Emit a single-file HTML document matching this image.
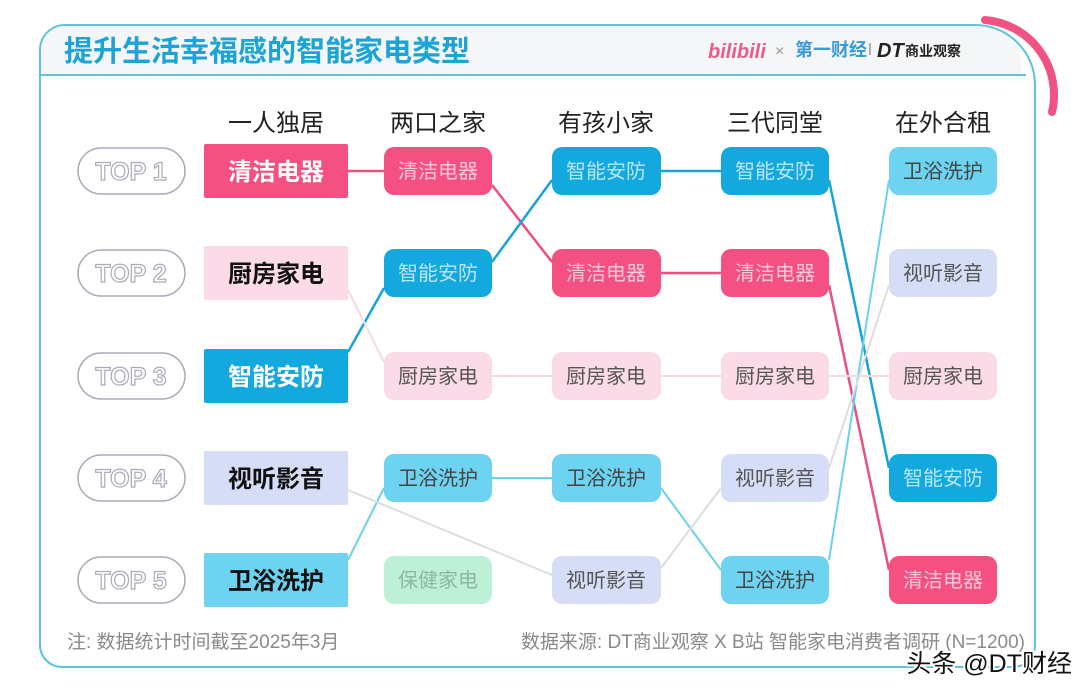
<!DOCTYPE html>
<html><head><meta charset="utf-8"><style>
html,body{margin:0;padding:0;background:#fff;}
body{width:1080px;height:694px;position:relative;overflow:hidden;font-family:"Liberation Sans","Noto Sans CJK SC",sans-serif;}
svg text{font-family:"Liberation Sans","Noto Sans CJK SC",sans-serif;}
</style></head><body>
<svg width="1080" height="694" viewBox="0 0 1080 694" xmlns="http://www.w3.org/2000/svg">
<path d="M65,25 H975 A60,60 0 0 1 1035,85 V645 A22,22 0 0 1 1013,667 H62 A22,22 0 0 1 40,645 V50 A25,25 0 0 1 65,25 Z" fill="#fff" stroke="#5ec3d8" stroke-width="2"/>
<path d="M41,75 V50 A24,24 0 0 1 65,26 H975 A59,59 0 0 1 1020,47 L1022,75 Z" fill="#f5f6f7"/>
<line x1="41" y1="75" x2="1026" y2="75" stroke="#5ec3d8" stroke-width="2"/>
<path d="M985,20 A75,75 0 0 1 1052,112" fill="none" stroke="#ef5283" stroke-width="8" stroke-linecap="round"/>
<text x="64" y="61" font-size="29" font-weight="bold" fill="#1ca4d6">提升生活幸福感的智能家电类型</text>
<text x="708" y="58" font-size="20" font-weight="bold" fill="#ef5a8a" font-style="italic">bilibili</text>
<text x="775" y="56" font-size="16" fill="#999">×</text>
<text x="795" y="56" font-size="18" font-weight="bold" fill="#3a9bd8">第一财经</text>
<line x1="870" y1="43" x2="870" y2="55" stroke="#999" stroke-width="1.5"/>
<text x="877" y="57" font-size="20" font-weight="bold" font-style="italic" fill="#222">DT</text>
<text x="905" y="56" font-size="14" font-weight="bold" fill="#222">商业观察</text>
<g font-size="24" fill="#222" text-anchor="middle">
<text x="276" y="131">一人独居</text><text x="438" y="131">两口之家</text><text x="606" y="131">有孩小家</text><text x="775" y="131">三代同堂</text><text x="943" y="131">在外合租</text>
</g>
<g fill="none" stroke-width="2.5">
<path d="M348,171 L384,171 M492,185 L552,262 M661,273 L721,273 M829,285 L889,570" stroke="#e9517f"/>
<path d="M348,352 L384,288 M492,262 L552,180 M661,171 L721,171 M829,180 L889,468" stroke="#1aa3d6"/>
<path d="M348,560 L384,488 M492,478 L552,478 M661,488 L721,570 M829,560 L889,180" stroke="#6dd0ea" stroke-width="2"/>
<path d="M348,290 L384,362 M492,376 L552,376 M661,376 L721,376 M829,376 L889,376" stroke="#f3dbe4" stroke-width="2"/>
<path d="M348,490 L552,575 M661,568 L721,488 M829,468 L889,285" stroke="#dcdde2" stroke-width="2"/>
</g>
<g fill="none" stroke="#a9abb8" stroke-width="1.5">
<rect x="78" y="148" width="107" height="46" rx="23"/><rect x="78" y="250" width="107" height="46" rx="23"/><rect x="78" y="353" width="107" height="46" rx="23"/><rect x="78" y="455" width="107" height="46" rx="23"/><rect x="78" y="557" width="107" height="46" rx="23"/>
</g>
<g font-size="25" font-weight="bold" fill="#fff" stroke="#a9abb8" stroke-width="1.2" text-anchor="middle">
<text x="131" y="180">TOP 1</text><text x="131" y="282">TOP 2</text><text x="131" y="385">TOP 3</text><text x="131" y="487">TOP 4</text><text x="131" y="589">TOP 5</text>
</g>
<rect x="204" y="144" width="144" height="54" fill="#f45182" rx="2"/>
<rect x="204" y="246" width="144" height="54" fill="#fbdbe8" rx="2"/>
<rect x="204" y="349" width="144" height="54" fill="#13a8de" rx="2"/>
<rect x="204" y="451" width="144" height="54" fill="#d6ddf6" rx="2"/>
<rect x="204" y="553" width="144" height="54" fill="#6dd3f0" rx="2"/>
<g font-size="24" font-weight="bold" text-anchor="middle">
<text x="276" y="180" fill="#fff">清洁电器</text><text x="276" y="282" fill="#111">厨房家电</text><text x="276" y="385" fill="#fff">智能安防</text><text x="276" y="487" fill="#111">视听影音</text><text x="276" y="589" fill="#111">卫浴洗护</text>
</g>
<g>
<rect x="384" y="147" width="108" height="48" rx="10" fill="#f45182"/>
<rect x="384" y="249" width="108" height="48" rx="10" fill="#13a8de"/>
<rect x="384" y="352" width="108" height="48" rx="10" fill="#fbdbe8"/>
<rect x="384" y="454" width="108" height="48" rx="10" fill="#6dd3f0"/>
<rect x="384" y="556" width="108" height="48" rx="10" fill="#bdf0d6"/>
<rect x="552" y="147" width="109" height="48" rx="10" fill="#13a8de"/>
<rect x="552" y="249" width="109" height="48" rx="10" fill="#f45182"/>
<rect x="552" y="352" width="109" height="48" rx="10" fill="#fbdbe8"/>
<rect x="552" y="454" width="109" height="48" rx="10" fill="#6dd3f0"/>
<rect x="552" y="556" width="109" height="48" rx="10" fill="#d6ddf6"/>
<rect x="721" y="147" width="108" height="48" rx="10" fill="#13a8de"/>
<rect x="721" y="249" width="108" height="48" rx="10" fill="#f45182"/>
<rect x="721" y="352" width="108" height="48" rx="10" fill="#fbdbe8"/>
<rect x="721" y="454" width="108" height="48" rx="10" fill="#d6ddf6"/>
<rect x="721" y="556" width="108" height="48" rx="10" fill="#6dd3f0"/>
<rect x="889" y="147" width="108" height="48" rx="10" fill="#6dd3f0"/>
<rect x="889" y="249" width="108" height="48" rx="10" fill="#d6ddf6"/>
<rect x="889" y="352" width="108" height="48" rx="10" fill="#fbdbe8"/>
<rect x="889" y="454" width="108" height="48" rx="10" fill="#13a8de"/>
<rect x="889" y="556" width="108" height="48" rx="10" fill="#f45182"/>
</g>
<g font-size="20" text-anchor="middle">
<text x="438" y="178" fill="#fcc9d9">清洁电器</text>
<text x="438" y="280" fill="#b9e6f6">智能安防</text>
<text x="438" y="383" fill="#555">厨房家电</text>
<text x="438" y="485" fill="#444">卫浴洗护</text>
<text x="438" y="587" fill="#8cb8a2">保健家电</text>
<text x="606" y="178" fill="#b9e6f6">智能安防</text>
<text x="606" y="280" fill="#fcc9d9">清洁电器</text>
<text x="606" y="383" fill="#555">厨房家电</text>
<text x="606" y="485" fill="#444">卫浴洗护</text>
<text x="606" y="587" fill="#555">视听影音</text>
<text x="775" y="178" fill="#b9e6f6">智能安防</text>
<text x="775" y="280" fill="#fcc9d9">清洁电器</text>
<text x="775" y="383" fill="#555">厨房家电</text>
<text x="775" y="485" fill="#555">视听影音</text>
<text x="775" y="587" fill="#444">卫浴洗护</text>
<text x="943" y="178" fill="#444">卫浴洗护</text>
<text x="943" y="280" fill="#555">视听影音</text>
<text x="943" y="383" fill="#555">厨房家电</text>
<text x="943" y="485" fill="#b9e6f6">智能安防</text>
<text x="943" y="587" fill="#fcc9d9">清洁电器</text>
</g>
<text x="67" y="648" font-size="19" fill="#8a8a8a">注: 数据统计时间截至2025年3月</text>
<text x="1025" y="648" font-size="19" fill="#8a8a8a" text-anchor="end">数据来源: DT商业观察 X B站 智能家电消费者调研 (N=1200)</text>
<text x="1072" y="672" font-size="25" fill="#111" stroke="#fff" stroke-width="4" paint-order="stroke" text-anchor="end">头条 @DT财经</text>
</svg>
</body></html>
